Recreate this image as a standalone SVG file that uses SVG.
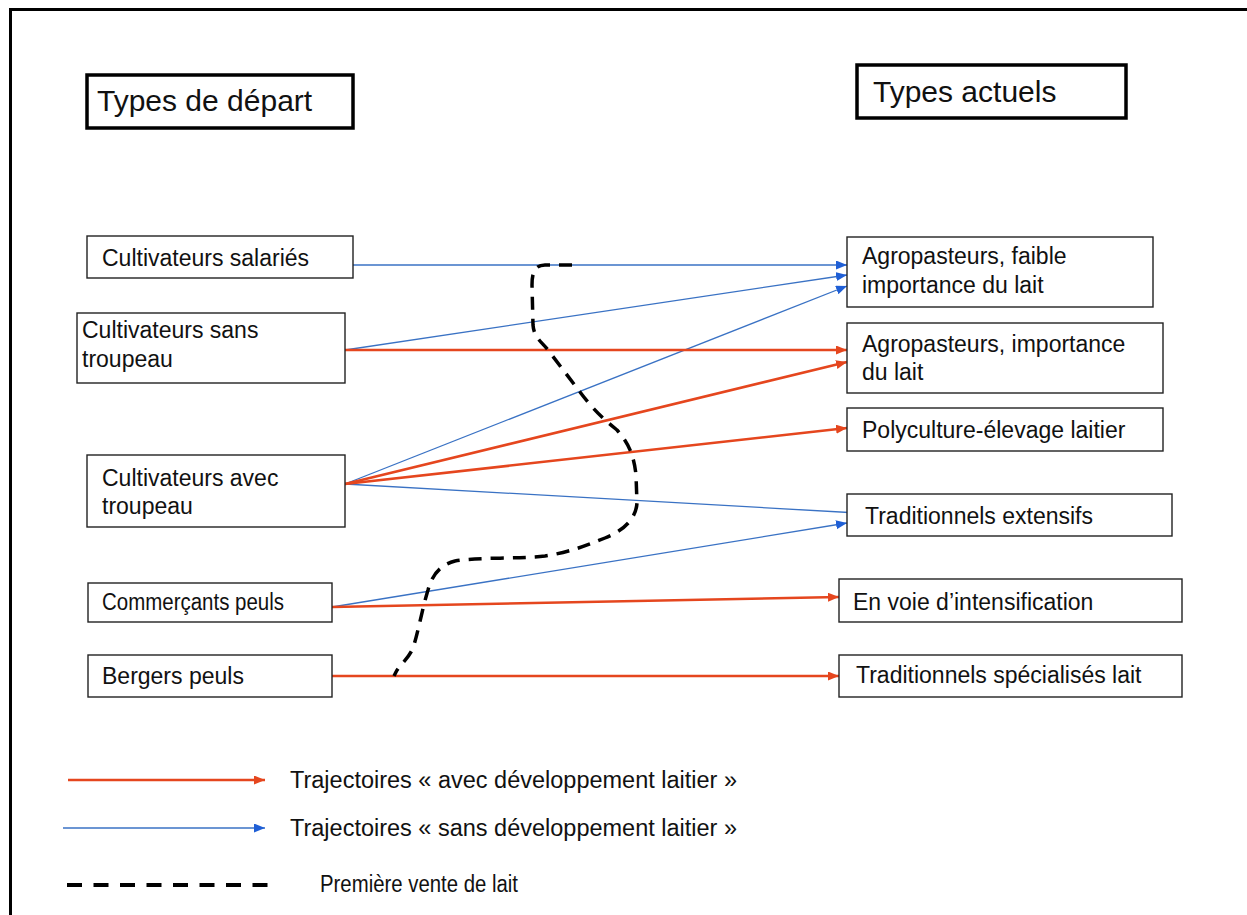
<svg xmlns="http://www.w3.org/2000/svg" width="1247" height="915" viewBox="0 0 1247 915">
<style>
.box{fill:#fff;stroke:#222;stroke-width:1.4}
.tbox{fill:#fff;stroke:#000;stroke-width:3.5}
.t{font-family:"Liberation Sans",Arial,sans-serif;font-size:23px;fill:#111}
.tt{font-family:"Liberation Sans",Arial,sans-serif;font-size:30px;fill:#111}
.red{stroke:#e5461e;stroke-width:2.6;fill:none}
.blue{stroke:#3a72c4;stroke-width:1.3;fill:none}
.dash{stroke:#000;stroke-width:3.5;fill:none;stroke-dasharray:13 9}
</style>
<defs>
<marker id="ar" markerUnits="userSpaceOnUse" markerWidth="12" markerHeight="10" refX="11" refY="4.5" orient="auto"><path d="M0,0 L11,4.5 L0,9 Z" fill="#e5461e"/></marker>
<marker id="ab" markerUnits="userSpaceOnUse" markerWidth="12" markerHeight="10" refX="11" refY="4.5" orient="auto"><path d="M0,0 L11,4.5 L0,9 Z" fill="#1f5fd6"/></marker>
</defs>
<rect width="1247" height="915" fill="#fff"/>
<path d="M10.5,915 L10.5,9.5 L1247,9.5" fill="none" stroke="#000" stroke-width="3"/>

<g id="title-depart"><rect class="tbox" x="87" y="75" width="266" height="53"/><text class="tt" x="97" y="111">Types de départ</text></g>
<g id="title-actuels"><rect class="tbox" x="857" y="65" width="269" height="53"/><text class="tt" x="873" y="102">Types actuels</text></g>

<g id="connectors">
<line class="blue" x1="353" y1="265" x2="847" y2="265" marker-end="url(#ab)"/>
<line class="blue" x1="345" y1="350" x2="847" y2="275" marker-end="url(#ab)"/>
<line class="blue" x1="345" y1="484" x2="847" y2="286" marker-end="url(#ab)"/>
<line class="blue" x1="345" y1="484" x2="858" y2="513" marker-end="url(#ab)"/>
<line class="blue" x1="332" y1="607" x2="847" y2="523" marker-end="url(#ab)"/>
<line class="red" x1="345" y1="350" x2="847" y2="350" marker-end="url(#ar)"/>
<line class="red" x1="345" y1="484" x2="847" y2="362" marker-end="url(#ar)"/>
<line class="red" x1="345" y1="484" x2="847" y2="428" marker-end="url(#ar)"/>
<line class="red" x1="332" y1="607" x2="839" y2="597" marker-end="url(#ar)"/>
<line class="red" x1="332" y1="676" x2="839" y2="676" marker-end="url(#ar)"/>
<path class="dash" d="M572,265 L545,265 C535,265 532,272 532,285 L533,325 C534,338 542,342 548,350 L580,392 C595,412 605,420 617,430 C628,442 634,455 636,475 L637,503 C636,518 625,530 605,538 C585,546 570,552 545,556 C520,559 480,557 455,561 C440,565 432,575 428,590 C422,610 419,628 414,645 C410,658 400,664 396,672 L394,676"/>
</g>

<g id="n-salaries"><rect class="box" x="87" y="236" width="266" height="42"/><text class="t" x="102" y="266">Cultivateurs salariés</text></g>
<g id="n-sans"><rect class="box" x="77" y="313" width="268" height="70"/><text class="t" x="82" y="338">Cultivateurs sans</text><text class="t" x="82" y="367">troupeau</text></g>
<g id="n-avec"><rect class="box" x="87" y="455" width="258" height="72"/><text class="t" x="102" y="486">Cultivateurs avec</text><text class="t" x="102" y="514">troupeau</text></g>
<g id="n-commercants"><rect class="box" x="88" y="583" width="244" height="39"/><text class="t" x="102" y="610" textLength="182" lengthAdjust="spacingAndGlyphs">Commerçants peuls</text></g>
<g id="n-bergers"><rect class="box" x="88" y="655" width="244" height="42"/><text class="t" x="102" y="684">Bergers peuls</text></g>

<g id="n-agro-faible"><rect class="box" x="847" y="237" width="306" height="70"/><text class="t" x="862" y="264">Agropasteurs, faible</text><text class="t" x="862" y="293">importance du lait</text></g>
<g id="n-agro-imp"><rect class="box" x="847" y="323" width="316" height="70"/><text class="t" x="862" y="352">Agropasteurs, importance</text><text class="t" x="862" y="380">du lait</text></g>
<g id="n-poly"><rect class="box" x="847" y="408" width="316" height="43"/><text class="t" x="862" y="438">Polyculture-élevage laitier</text></g>
<g id="n-trad-ext"><rect class="box" x="847" y="494" width="325" height="42"/><text class="t" x="865" y="524">Traditionnels extensifs</text></g>
<g id="n-intens"><rect class="box" x="839" y="579" width="343" height="43"/><text class="t" x="853" y="610">En voie d’intensification</text></g>
<g id="n-trad-spec"><rect class="box" x="839" y="655" width="343" height="42"/><text class="t" x="856" y="683">Traditionnels spécialisés lait</text></g>

<g id="legend">
<line class="red" x1="68" y1="780" x2="265" y2="780" stroke-width="3" marker-end="url(#ar)"/>
<line class="blue" x1="63" y1="828" x2="265" y2="828" stroke-width="2" marker-end="url(#ab)"/>
<line x1="67" y1="885" x2="268" y2="885" stroke="#000" stroke-width="4" stroke-dasharray="15 11.5"/>
<text class="t" x="290" y="788" textLength="447" lengthAdjust="spacingAndGlyphs">Trajectoires « avec développement laitier »</text>
<text class="t" x="290" y="836" textLength="447" lengthAdjust="spacingAndGlyphs">Trajectoires « sans développement laitier »</text>
<text class="t" x="320" y="892" textLength="198" lengthAdjust="spacingAndGlyphs">Première vente de lait</text>
</g>
</svg>
